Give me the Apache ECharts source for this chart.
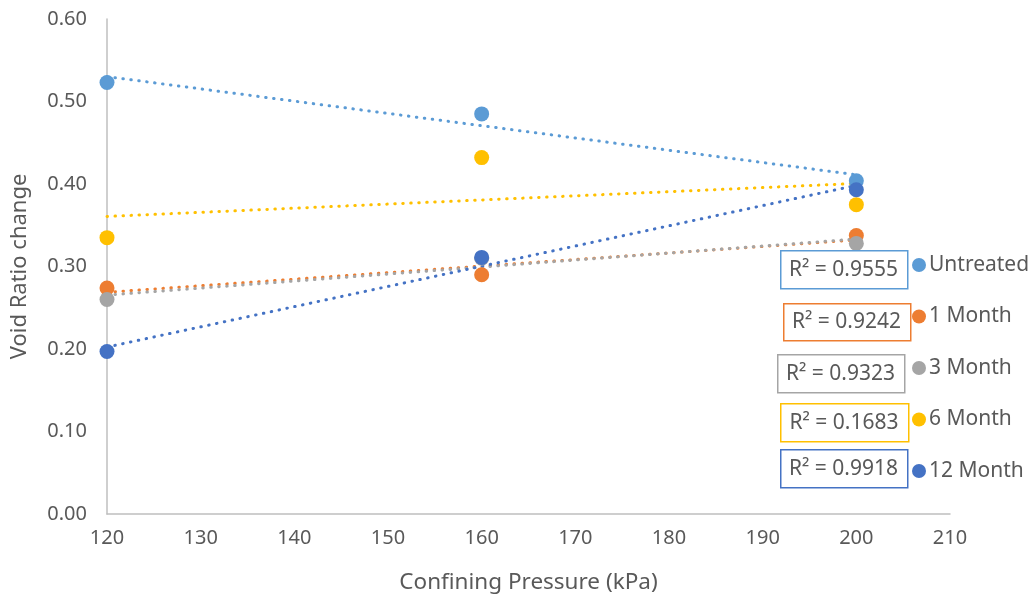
<!DOCTYPE html>
<html><head><meta charset="utf-8">
<script src="https://cdn.jsdelivr.net/npm/echarts@6/dist/echarts.min.js"></script>
<style>html,body{margin:0;padding:0;background:#fff}#c{width:1032px;height:599px}</style>
</head><body><div id="c"></div>
<script>
const pressures = [120, 160, 200];
const seriesNames = ['Untreated', '1 Month', '3 Month', '6 Month', '12 Month'];
const untreated = [0.523, 0.485, 0.404];
const month1 = [0.274, 0.290, 0.3375];
const month3 = [0.260, 0.310, 0.328];
const month6 = [0.335, 0.432, 0.375];
const month12 = [0.197, 0.311, 0.393];
const r2Labels = ['R² = 0.9555', 'R² = 0.9242', 'R² = 0.9323', 'R² = 0.1683', 'R² = 0.9918'];
const colors = ['#5B9BD5', '#ED7D31', '#A5A5A5', '#FFC000', '#4472C4'];
const xTicks = [120, 130, 140, 150, 160, 170, 180, 190, 200, 210];

const allValues = [untreated, month1, month3, month6, month12];
const FONT = 'Noto Sans';
const TXT = '#595959';

function fit(xs, ys) {
  const n = xs.length;
  const mx = xs.reduce((a, b) => a + b, 0) / n;
  const my = ys.reduce((a, b) => a + b, 0) / n;
  let sxy = 0, sxx = 0;
  for (let i = 0; i < n; i++) { sxy += (xs[i] - mx) * (ys[i] - my); sxx += (xs[i] - mx) ** 2; }
  const b = sxy / sxx, a = my - b * mx;
  return [[xs[0], a + b * xs[0]], [xs[n - 1], a + b * xs[n - 1]]];
}

const series = [];
allValues.forEach((vals, i) => {
  series.push({
    name: seriesNames[i] + ' trend', type: 'line', data: fit(pressures, vals),
    symbol: 'none', silent: true, z: 1,
    lineStyle: { color: colors[i], width: 3, type: [0.5, 7.5], cap: 'round' }
  });
});
allValues.forEach((vals, i) => {
  series.push({
    name: seriesNames[i], type: 'scatter', z: 3,
    data: pressures.map((p, j) => [p, vals[j]]),
    symbolSize: 15, itemStyle: { color: colors[i], opacity: 1 }
  });
});

const boxes = [
  [780, 250, 127, 38], [783, 303, 127, 37], [777, 354, 127, 38], [780, 403, 128, 38], [780, 449, 127, 38]
];
const graphic = [];
boxes.forEach((b, i) => {
  graphic.push({ type: 'rect', left: b[0], top: b[1], shape: { width: b[2], height: b[3] },
    style: { fill: '#fff', stroke: colors[i], lineWidth: 1.5 }, z: 10 });
  graphic.push({ type: 'text', x: b[0] + b[2] / 2, y: b[1] + b[3] / 2 + 1, z: 11,
    style: { text: r2Labels[i], fill: TXT, font: '21px "' + FONT + '"', align: 'center', verticalAlign: 'middle' } });
});

const chart = echarts.init(document.getElementById('c'));
chart.setOption({
  animation: false,
  grid: { left: 107, right: 82, top: 19, bottom: 84 },
  xAxis: {
    type: 'value', min: 120, max: 210, interval: 10,
    name: 'Confining Pressure (kPa)', nameLocation: 'middle', nameGap: 57,
    nameTextStyle: { color: TXT, fontSize: 22.5, fontFamily: FONT },
    axisLine: { show: true, lineStyle: { color: '#BFBFBF', width: 1.5 } },
    axisTick: { show: false }, splitLine: { show: false },
    axisLabel: { color: TXT, fontSize: 20, fontFamily: FONT, margin: 14 }
  },
  yAxis: {
    type: 'value', min: 0, max: 0.6, interval: 0.1,
    name: 'Void Ratio change', nameLocation: 'middle', nameGap: 76,
    nameTextStyle: { color: TXT, fontSize: 22, fontFamily: FONT },
    axisLine: { show: true, lineStyle: { color: '#BFBFBF', width: 1.5 } },
    axisTick: { show: false }, splitLine: { show: false },
    axisLabel: { color: TXT, fontSize: 20, fontFamily: FONT, margin: 20, formatter: v => v.toFixed(2) }
  },
  legend: {
    data: seriesNames, orient: 'vertical', left: 907, top: 249,
    itemWidth: 14, itemHeight: 14, itemGap: 29.5, icon: 'circle',
    textStyle: { color: TXT, fontSize: 21, fontFamily: FONT, lineHeight: 22, padding: [0, 0, 0, -2] }
  },
  series: series,
  graphic: graphic
});
</script></body></html>
